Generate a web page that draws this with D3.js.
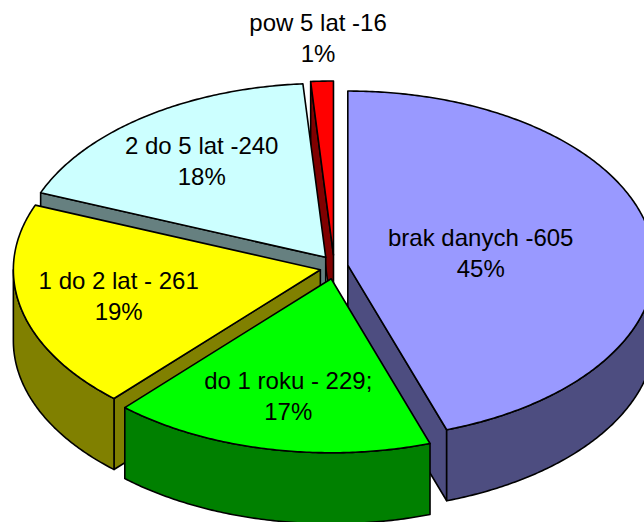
<!DOCTYPE html>
<html><head><meta charset="utf-8">
<script src="https://cdn.jsdelivr.net/npm/d3@7"></script>
<style>html,body{margin:0;padding:0;background:#fff;overflow:hidden}</style>
</head><body>
<svg id="chart" width="644" height="522"></svg>
<script>
// ---- data ----
const categories = ["brak danych", "do 1 roku", "1 do 2 lat", "2 do 5 lat", "pow 5 lat"];
const values = [605, 229, 261, 240, 16];
const labelNames = ["brak danych -605", "do 1 roku - 229;", "1 do 2 lat - 261", "2 do 5 lat -240", "pow 5 lat -16"];
const topColors = ["#9999FF", "#00FF00", "#FFFF00", "#CCFFFF", "#FF0000"];

// ---- layout ----
const cx = 334, cy = 267, RX = 307, RY = 174, DEPTH = 71;
const EXPLODE_X = 14, EXPLODE_Y = 12;
const svg = d3.select("#chart");
const total = d3.sum(values);
const pct = d3.format(".0%");
const arcs = d3.pie().sort(null).value(d => d).startAngle(0).endAngle(2 * Math.PI)(values);

function pt(a, k, z, o) {
  return [cx + o[0] + k * RX * Math.sin(a), cy + o[1] - k * RY * Math.cos(a) + z];
}
function arcPts(a0, a1, z, o) {
  const n = Math.max(2, Math.ceil(Math.abs(a1 - a0) / 0.01));
  return d3.range(n + 1).map(i => pt(a0 + (a1 - a0) * i / n, 1, z, o));
}
const line = d3.line().curve(d3.curveLinearClosed);
function darker(c) { const r = d3.rgb(c); return d3.rgb(r.r * 0.5, r.g * 0.5, r.b * 0.5).formatHex(); }

const walls = [];
arcs.forEach((d, i) => {
  const mid = (d.startAngle + d.endAngle) / 2;
  const o = [EXPLODE_X * Math.sin(mid), -EXPLODE_Y * Math.cos(mid)];
  d.off = o; d.mid = mid;
  const side = darker(topColors[i]);
  const a = d.startAngle, b = d.endAngle;
  if (Math.sin(a) < -1e-6) {
    const pts = [pt(a, 0, 0, o), pt(a, 1, 0, o), pt(a, 1, DEPTH, o), pt(a, 0, DEPTH, o)];
    walls.push({ pts, color: side, depth: -0.5 * Math.cos(a) + o[1] / RY });
  }
  if (Math.sin(b) > 1e-6) {
    const pts = [pt(b, 0, 0, o), pt(b, 1, 0, o), pt(b, 1, DEPTH, o), pt(b, 0, DEPTH, o)];
    walls.push({ pts, color: side, depth: -0.5 * Math.cos(b) + o[1] / RY });
  }
  const s = Math.max(a, Math.PI / 2), e = Math.min(b, 3 * Math.PI / 2);
  if (e > s) {
    const top = arcPts(s, e, 0, o), bot = arcPts(e, s, DEPTH, o);
    const m = (s + e) / 2;
    walls.push({ pts: top.concat(bot), color: side, depth: -Math.cos(m) + o[1] / RY });
  }
});
walls.sort((p, q) => p.depth - q.depth);

svg.append("g").selectAll("path").data(walls).join("path")
  .attr("d", w => line(w.pts))
  .attr("fill", w => w.color)
  .attr("stroke", "#000").attr("stroke-width", 1.6).attr("stroke-linejoin", "round");

svg.append("g").selectAll("path").data(arcs).join("path")
  .attr("d", d => line([pt(d.startAngle, 0, 0, d.off)].concat(arcPts(d.startAngle, d.endAngle, 0, d.off))))
  .attr("fill", (d, i) => topColors[i])
  .attr("stroke", "#000").attr("stroke-width", 1.6).attr("stroke-linejoin", "round");

// ---- labels ----
const lg = svg.append("g")
  .attr("font-family", "'Liberation Sans', Arial, sans-serif")
  .attr("font-size", 24).attr("fill", "#000").attr("text-anchor", "middle");
arcs.forEach((d, i) => {
  const frac = values[i] / total;
  let p;
  if (frac >= 0.05) {
    const h = (d.endAngle - d.startAngle) / 2;
    const c = (2 / 3) * Math.sin(h) / h;
    const k = 1.48 * c - 0.253;
    p = pt(d.mid, k, 0, d.off);
  } else {
    const e = pt(d.mid, 1, 0, d.off);
    p = [e[0] - 4, e[1] - 43];
  }
  const t = lg.append("text").attr("x", p[0]).attr("y", p[1]);
  t.append("tspan").attr("x", p[0]).attr("y", p[1] - 15.5).attr("dominant-baseline", "central").text(labelNames[i]);
  t.append("tspan").attr("x", p[0]).attr("y", p[1] + 15.5).attr("dominant-baseline", "central").text(pct(frac));
});
</script>
</body></html>
